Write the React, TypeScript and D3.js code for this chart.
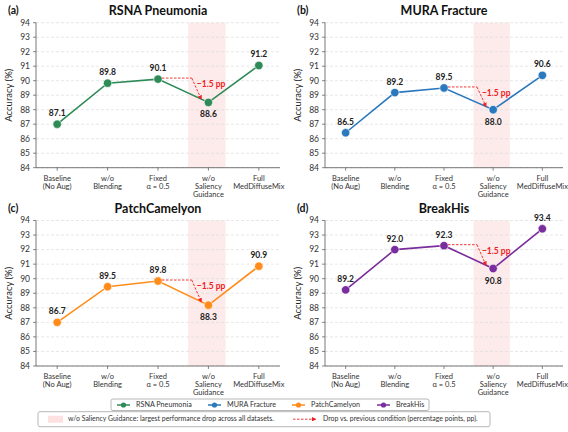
import React from 'react';
import * as d3 from 'd3';

const categories = [
  ['Baseline', '(No Aug)'],
  ['w/o', 'Blending'],
  ['Fixed', 'α = 0.5'],
  ['w/o', 'Saliency', 'Guidance'],
  ['Full', 'MedDiffuseMix'],
];
const yTicks = [84, 85, 86, 87, 88, 89, 90, 91, 92, 93, 94];

const names = ['RSNA Pneumonia', 'MURA Fracture', 'PatchCamelyon', 'BreakHis'];
const tags = ['(a)', '(b)', '(c)', '(d)'];
const colors = ['#2e8b57', '#2a78bd', '#ff8c1a', '#7a2d9c'];

// plotted positions (as drawn) and the printed labels
const rsnaVals = [87.0, 89.83, 90.11, 88.5, 91.05];
const rsnaText = ['87.1', '89.8', '90.1', '88.6', '91.2'];
const muraVals = [86.41, 89.18, 89.5, 88.0, 90.37];
const muraText = ['86.5', '89.2', '89.5', '88.0', '90.6'];
const pcamVals = [87.0, 89.45, 89.84, 88.18, 90.86];
const pcamText = ['86.7', '89.5', '89.8', '88.3', '90.9'];
const bhVals = [89.23, 92.0, 92.27, 90.7, 93.43];
const bhText = ['89.2', '92.0', '92.3', '90.8', '93.4'];

const allVals = [rsnaVals, muraVals, pcamVals, bhVals];
const allText = [rsnaText, muraText, pcamText, bhText];
const dropText = '−1.5 pp';

const font = 'Lato, "Open Sans", sans-serif';

const frames = [
  { x0: 36, x1: 280, y0: 22.7, y1: 167.7 },
  { x0: 325, x1: 563, y0: 22.7, y1: 167.7 },
  { x0: 36, x1: 280, y0: 220.5, y1: 366 },
  { x0: 325, x1: 563, y0: 220.5, y1: 366 },
];

function Panel({ i }: { i: number }) {
  const f = frames[i];
  const vals = allVals[i];
  const text = allText[i];
  const color = colors[i];
  const x = d3.scalePoint<number>().domain(d3.range(5)).range([f.x0, f.x1]).padding(0.42);
  const y = d3.scaleLinear().domain([84, 94]).range([f.y1, f.y0]);
  const step = x.step();
  const line = d3.line<number>().x((_, k) => x(k)!).y(d => y(d));
  const cx = (f.x0 + f.x1) / 2;

  const xf = x(2)!, yf = y(vals[2]);
  const xs = x(3)!, ys = y(vals[3]);
  const corner = xf + step * 0.67;

  return (
    <g>
      <text x={f.x0 - 28} y={f.y0 - 9} fontSize={10.5} fontWeight="bold" fill="#111" fontFamily={font}>{tags[i]}</text>
      <text x={cx} y={f.y0 - 8} textAnchor="middle" fontSize={12.5} fontWeight="bold" fill="#111" fontFamily={font}>{names[i]}</text>
      <rect x={xs - step * 0.37 - 1.5} y={f.y0} width={step * 0.74} height={f.y1 - f.y0} fill="#fdeaea" />
      {yTicks.map(t => (
        <g key={t}>
          <line x1={f.x0} x2={f.x1} y1={y(t)} y2={y(t)} stroke="#dcdcdc" strokeWidth={0.7} strokeDasharray="3,2" />
          <line x1={f.x0 - 3} x2={f.x0} y1={y(t)} y2={y(t)} stroke="#555" strokeWidth={0.7} />
          <text x={f.x0 - 6} y={y(t)} dy="0.33em" textAnchor="end" fontSize={8.5} fill="#333" fontFamily={font}>{t}</text>
        </g>
      ))}
      <line x1={f.x0} x2={f.x0} y1={f.y0} y2={f.y1} stroke="#555" strokeWidth={0.8} />
      <line x1={f.x0} x2={f.x1} y1={f.y1} y2={f.y1} stroke="#555" strokeWidth={0.8} />
      <text transform={`translate(${f.x0 - 24},${(f.y0 + f.y1) / 2}) rotate(-90)`} textAnchor="middle" fontSize={9.5} fill="#222" fontFamily={font}>Accuracy (%)</text>
      {categories.map((c, k) => (
        <g key={k}>
          <line x1={x(k)} x2={x(k)} y1={f.y1} y2={f.y1 + 3} stroke="#555" strokeWidth={0.7} />
          {c.map((s, j) => (
            <text key={j} x={x(k)} y={f.y1 + 13 + j * 8} textAnchor="middle" fontSize={7.5} fill="#333" fontFamily={font}>{s}</text>
          ))}
        </g>
      ))}
      <path d={line(vals)!} fill="none" stroke={color} strokeWidth={1.6} />
      {vals.map((v, k) => (
        <circle key={k} cx={x(k)} cy={y(v)} r={4.2} fill={color} stroke="#fff" strokeWidth={0.6} />
      ))}
      {vals.map((v, k) => (
        <text key={k} x={x(k)} y={k === 3 ? y(v) + 15 : y(v) - 8} textAnchor="middle" fontSize={8.5} fontWeight="bold" fill="#222" fontFamily={font}>{text[k]}</text>
      ))}
      <line x1={xf + 4} x2={corner} y1={yf - 1} y2={yf - 1} stroke="#ee2222" strokeWidth={0.9} strokeDasharray="2.5,1.5" />
      <line x1={corner} x2={xs - 7} y1={yf - 1} y2={ys - 3} stroke="#ee2222" strokeWidth={0.9} strokeDasharray="2.5,1.5" markerEnd="url(#arrowRed)" />
      <text x={corner + 5} y={yf + 8} fontSize={8.5} fontWeight="bold" fill="#ee2222" fontFamily={font}>{dropText}</text>
    </g>
  );
}

export default function App() {
  const legendX = [117, 208, 292, 377];
  return (
    <svg width={568} height={432} style={{ position: 'fixed', left: 0, top: 0, background: '#fff' }}>
      <defs>
        <marker id="arrowRed" viewBox="0 0 10 10" refX={9} refY={5} markerWidth={5} markerHeight={5} orient="auto">
          <path d="M0,0 L10,5 L0,10 z" fill="#ee2222" />
        </marker>
      </defs>
      <rect width={568} height={432} fill="#fff" />
      {[0, 1, 2, 3].map(i => <Panel key={i} i={i} />)}
      <rect x={111} y={399} width={318} height={11.5} fill="#fff" stroke="#999" strokeWidth={0.7} rx={2} />
      {names.map((n, i) => (
        <g key={n}>
          <line x1={legendX[i]} x2={legendX[i] + 13} y1={405} y2={405} stroke={colors[i]} strokeWidth={1.5} />
          <circle cx={legendX[i] + 6.5} cy={405} r={2.6} fill={colors[i]} />
          <text x={legendX[i] + 19} y={405} dy="0.33em" fontSize={7.2} fill="#333" fontFamily={font}>{n}</text>
        </g>
      ))}
      <rect x={38} y={411.7} width={452} height={15} fill="#fff" stroke="#999" strokeWidth={0.7} rx={2} />
      <rect x={48} y={415.7} width={15} height={7} fill="#fde0e0" />
      <text x={68} y={419.2} dy="0.33em" fontSize={6.9} fill="#333" fontFamily={font}>w/o Saliency Guidance:  largest performance drop across all datasets.</text>
      <line x1={293} x2={316} y1={419.2} y2={419.2} stroke="#ee2222" strokeWidth={0.9} strokeDasharray="2.5,1.5" markerEnd="url(#arrowRed)" />
      <text x={323} y={419.2} dy="0.33em" fontSize={6.9} fill="#333" fontFamily={font}>Drop vs. previous condition (percentage points, pp).</text>
    </svg>
  );
}
